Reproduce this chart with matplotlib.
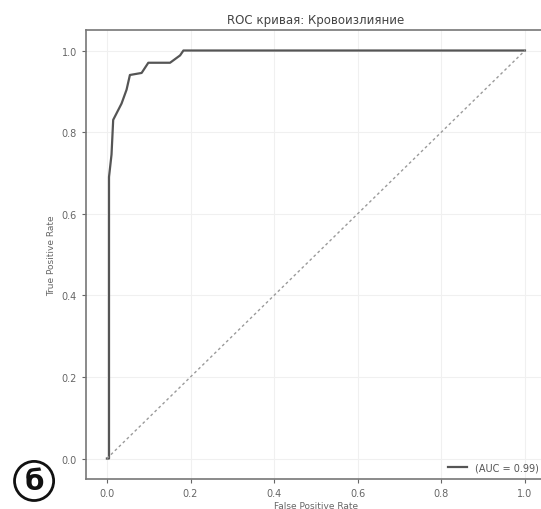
import matplotlib
matplotlib.use("Agg")
import matplotlib.pyplot as plt

fpr = [0.0, 0.005, 0.005, 0.011, 0.015, 0.035, 0.047, 0.055, 0.083, 0.099, 0.151, 0.175, 0.183, 1.0]
tpr = [0.0, 0.0, 0.69, 0.745, 0.83, 0.87, 0.904, 0.94, 0.945, 0.97, 0.97, 0.988, 1.0, 1.0]
auc_label = "(AUC = 0.99)"
title = "ROC кривая: Кровоизлияние"
xlabel = "False Positive Rate"
ylabel = "True Positive Rate"
ticks = [0.0, 0.2, 0.4, 0.6, 0.8, 1.0]
panel_letter = "б"

fig = plt.figure(figsize=(5.41, 5.10), dpi=100)
ax = fig.add_axes([0.159, 0.059, 0.850, 0.88])

ax.plot(fpr, tpr, color="#555555", lw=1.6, label=auc_label)
ax.plot([0, 1], [0, 1], color="#9a9a9a", lw=1.0, ls=(0, (2, 2)))
ax.set_xlim(-0.05, 1.05)
ax.set_ylim(-0.05, 1.05)
ax.set_xticks(ticks)
ax.set_yticks(ticks)
ax.tick_params(labelsize=7, colors="#666666", length=3)
ax.grid(True, color="#f0f0f0", lw=0.8)
for s in ax.spines.values():
    s.set_color("#777777")
    s.set_linewidth(1.2)

ax.set_title(title, fontsize=8.5, color="#444444", pad=5)
ax.set_xlabel(xlabel, fontsize=6.5, color="#666666", labelpad=2)
ax.set_ylabel(ylabel, fontsize=6.5, color="#666666", labelpad=4)
leg = ax.legend(loc="lower right", frameon=False, fontsize=7, labelcolor="#555555",
                handlelength=2.0, borderaxespad=0.3)

fig.text(0.063, 0.055, panel_letter, fontsize=20, fontweight="semibold", ha="center", va="center",
         color="#111111",
         bbox=dict(boxstyle="circle,pad=0.2", fc="white", ec="#111111", lw=2.0))

fig.savefig("out.png", dpi=100)
